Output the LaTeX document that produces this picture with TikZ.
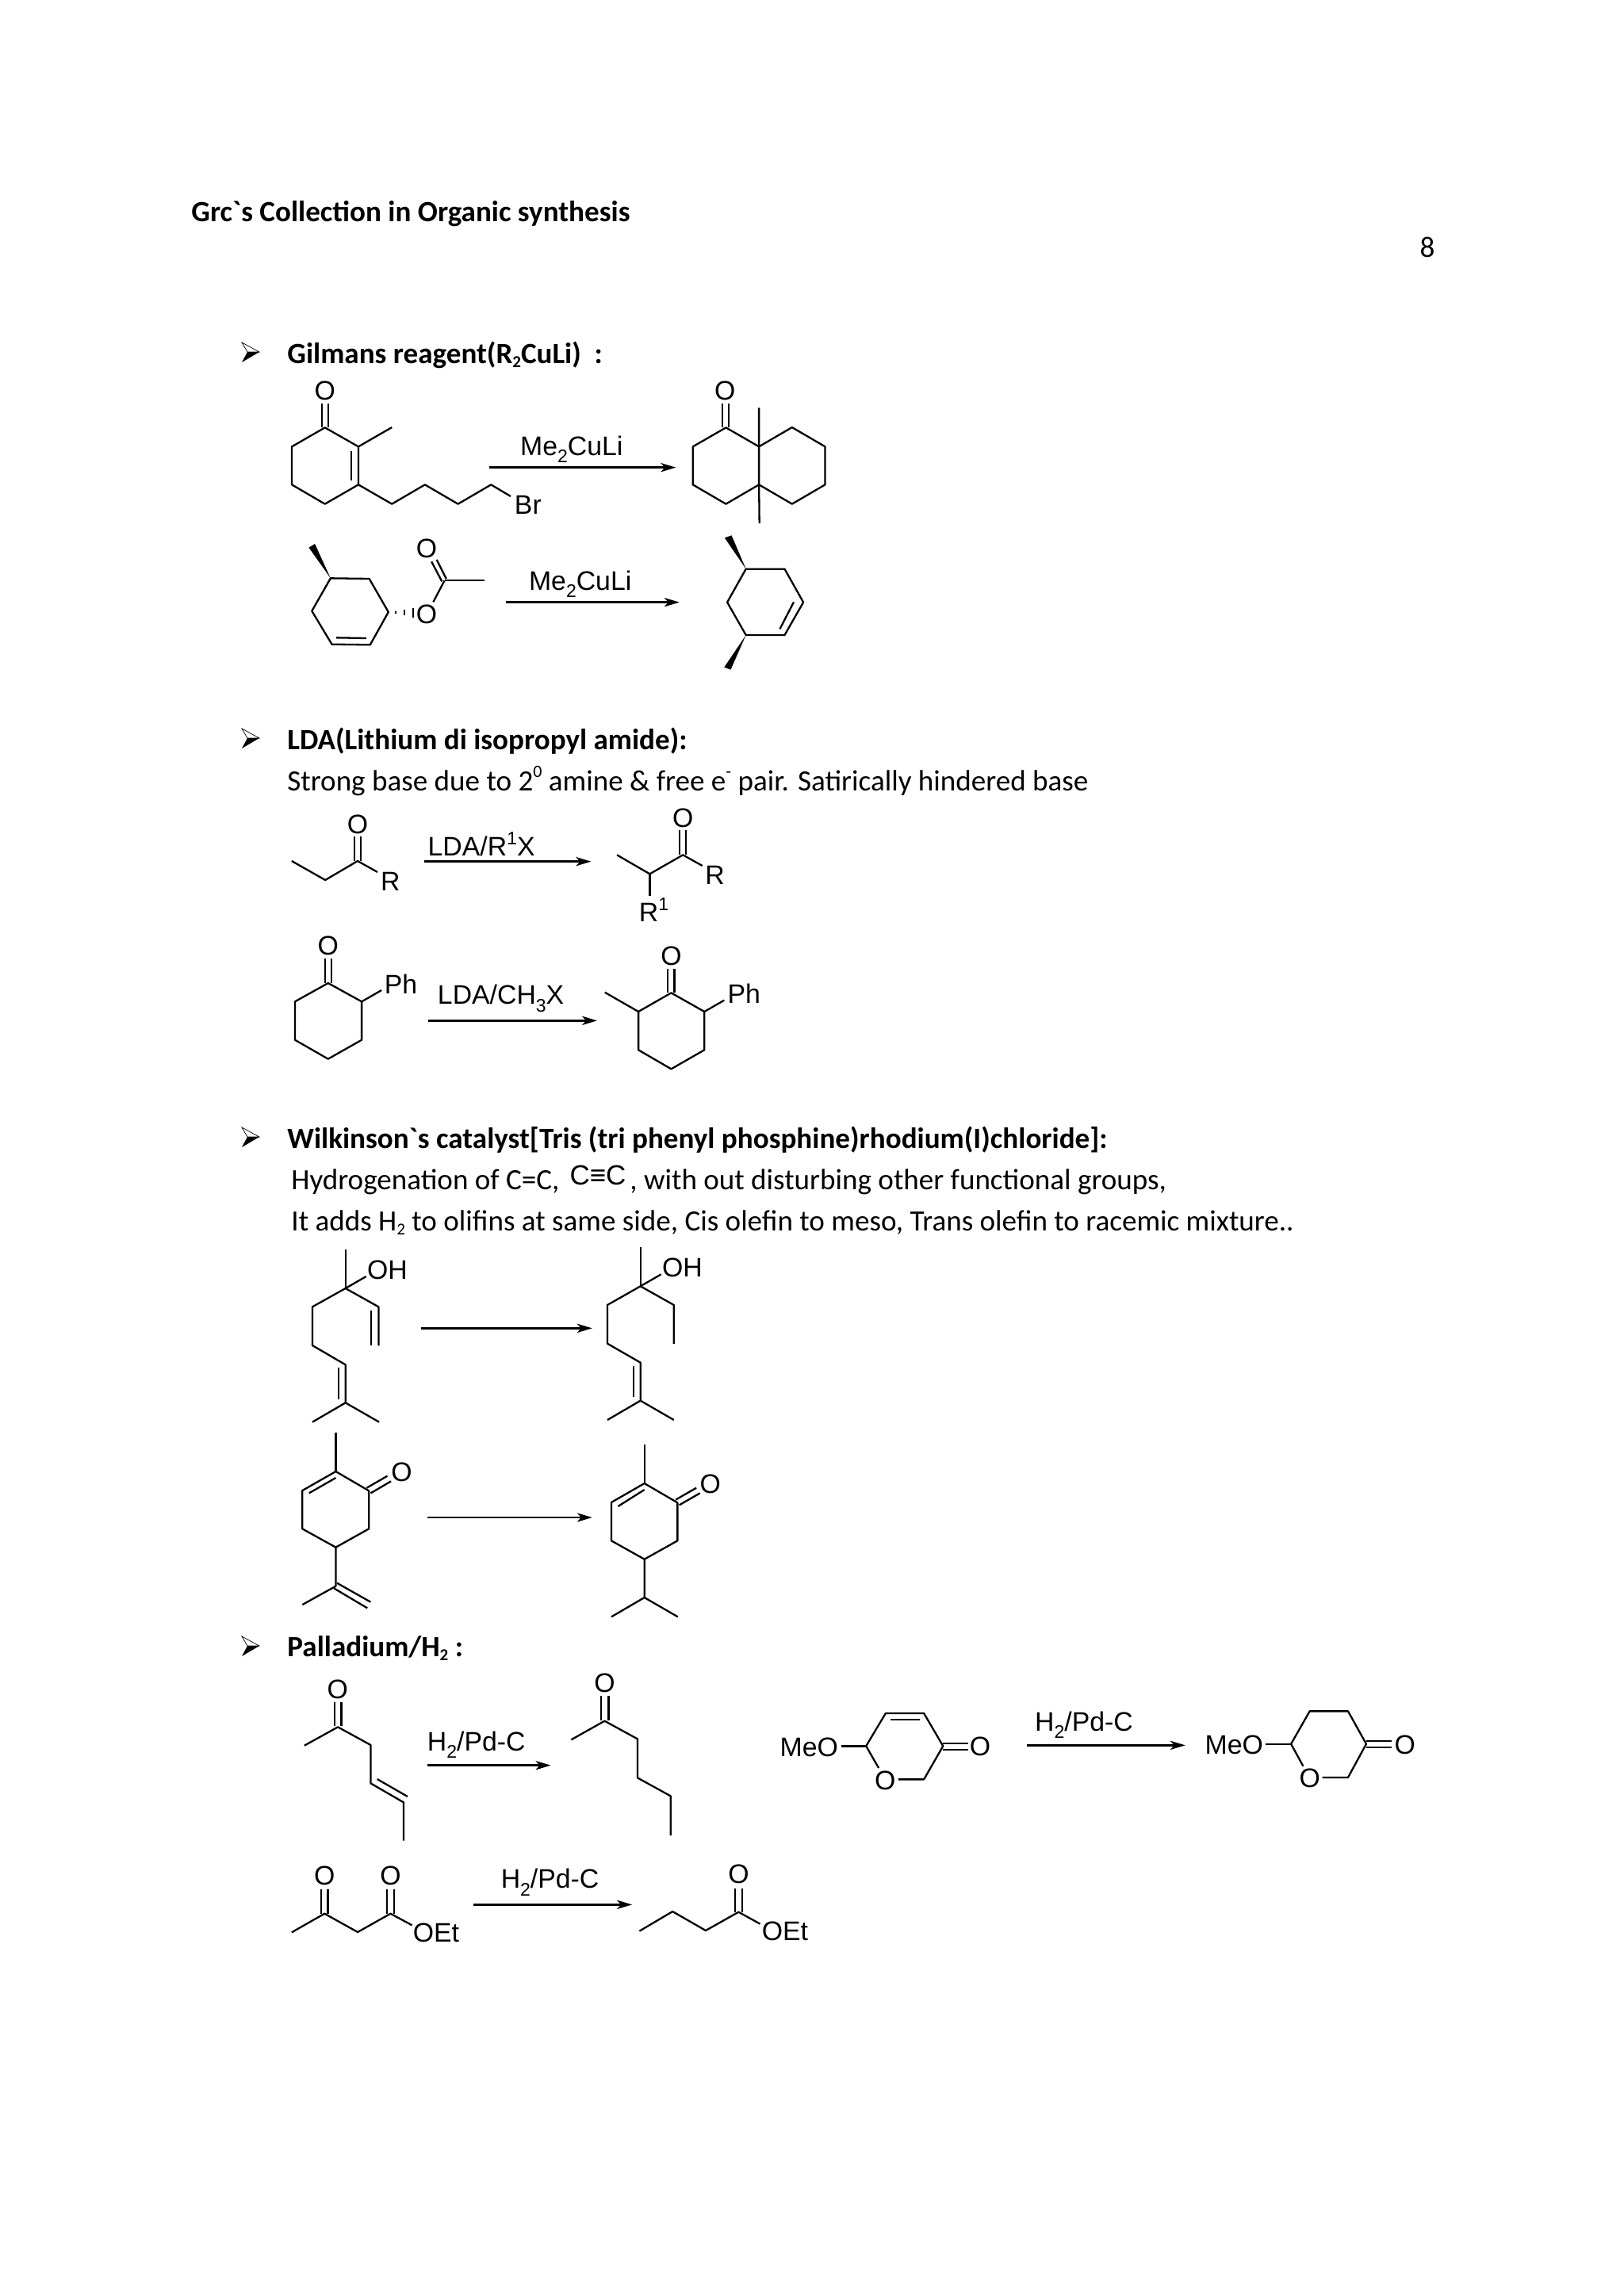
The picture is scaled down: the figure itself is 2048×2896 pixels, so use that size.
\documentclass[tikz,border=0pt]{standalone}
\usepackage{fontspec}
\usetikzlibrary{arrows.meta}
\setmainfont{Carlito}[Ligatures=TeXOff]
\newfontfamily\molfont{Liberation Sans}
\newcommand\lowidx[1]{\raisebox{-0.28em}{\fontsize{11.5}{11.5}\selectfont #1}}
\newcommand\highidx[1]{\raisebox{0.42em}{\fontsize{11.5}{11.5}\selectfont #1}}
\newcommand\txtlow[1]{\raisebox{-0.14em}{\fontsize{10.5}{11}\selectfont #1}}
\newcommand\txthigh[1]{\raisebox{0.44em}{\fontsize{11}{11}\selectfont #1}}
\newcommand\gravemark{\char96\relax}
\tikzset{
  zoomframe/.style n args={3}{shift={(#1,#2)},xscale=1/#3,yscale=1/3},
  bond/.style={line width=1.15pt,line join=round,black},
  hashtick/.style={line width=1.3pt,black},
  wedgebond/.style={fill=black,draw=none},
  rxn/.style={line width=1.3pt,black,-{Stealth[length=9.5pt,width=5.6pt,inset=2.5pt]}},
  atom/.style={font=\molfont\fontsize{16.9}{18}\selectfont,inner sep=0pt,black},
  reagent/.style={font=\molfont\fontsize{16.9}{18}\selectfont,inner sep=0pt,anchor=base,black},
  sheet/.style={font=\fontsize{18.55}{23}\selectfont,inner sep=0pt,anchor=base west,black},
  sheethead/.style={sheet,font=\fontsize{18.55}{23}\selectfont\bfseries},
  bulletmark/.pic={
    \draw[line width=0.35pt,fill=white] (0,0)--(22,12)--(7,12)--cycle;
    \fill[black] (7,12)--(22,12)--(0,25)--cycle;
  }
}
\begin{document}
\begin{tikzpicture}[x=0.5pt,y=-0.5pt]
\useasboundingbox (0,0) rectangle (2048,2896);
% page text
\node[sheethead] (title) at (241,279) {Grc\gravemark s Collection in Organic synthesis};
\node[sheet,anchor=base] (pagenum) at (1800,324) {8};
\pic at (305,432) {bulletmark};
\node[sheethead] (h1) at (362,458) {Gilmans reagent(R\txtlow{2}CuLi)\ \ :};
\pic at (305,919) {bulletmark};
\node[sheethead] (h2) at (362,945) {LDA(Lithium di isopropyl amide):};
\node[sheet] (t2) at (362,997) {Strong base due to 2\txthigh{0} amine \& free e\txthigh{-} pair. Satirically hindered base};
\pic at (305,1422) {bulletmark};
\node[sheethead] (h3) at (362,1448) {Wilkinson\gravemark s catalyst[Tris (tri phenyl phosphine)rhodium(I)chloride]:};
\node[sheet] (t3a) at (367,1500) {Hydrogenation of C=C,};
\node[reagent,font=\molfont\fontsize{17.5}{18}\selectfont] (t3b) at (754,1494) {C≡C};
\node[sheet] (t3c) at (794,1500) {, with out disturbing other functional groups,};
\node[sheet] (t3d) at (367,1552) {It adds H\txtlow{2} to olifins at same side, Cis olefin to meso, Trans olefin to racemic mixture..};
\pic at (305,2064) {bulletmark};
\node[sheethead] (h4) at (362,2089) {Palladium/H\txtlow{2} :};
% Gilman
\begin{scope}[zoomframe={260}{420}{1.823}]
\node[atom] (g1o) at (273,218) {O};
\draw[bond] (273,358)--(197,430)--(197,574)--(273,647)--(350,574)--(350,430)--cycle;
\draw[bond] (266,358)--(266,268) (281,358)--(281,268);
\draw[bond] (350,430)--(427,357);
\draw[bond] (333,448)--(333,558);
\draw[bond] (350,574)--(427,647)--(503,574)--(579,647)--(655,574)--(700,618);
\node[atom] (g1br) at (740,650) {Br};
\coordinate (ga1s) at (650,509); \coordinate (ga1e) at (1080,509);
\draw[rxn] (ga1s)--(ga1e);
\node[reagent] (ga1l) at (840,463) {Me\lowidx{2}CuLi};
\node[atom] (g2o) at (1193,218) {O};
\draw[bond] (1195,358)--(1119,430)--(1119,574)--(1195,647)--(1271,574)--(1271,430)--cycle;
\draw[bond] (1271,430)--(1347,357)--(1423,430)--(1423,574)--(1347,647)--(1271,574);
\draw[bond] (1187,358)--(1187,268) (1202,358)--(1202,268);
\draw[bond] (1271,283)--(1271,430) (1271,574)--(1272,720);
% second row
\draw[bond] (286,928)--(375,930)--(419,1056)--(377,1180)--(289,1178)--(243,1052)--cycle;
\draw[bond] (299,1153)--(368,1155);
\fill[wedgebond] (286,928)--(236,812)--(250,798)--cycle;
\draw[hashtick] (436,1053)--(436,1063) (456,1048)--(456,1069) (476,1041)--(476,1077);
\node[atom] (g3o1) at (507,1064) {O};
\node[atom] (g3o2) at (507,816) {O};
\draw[bond] (548,937)--(522,1018);
\draw[bond] (548,937)--(640,937);
\draw[bond] (552,930)--(530,858) (542,940)--(518,865);
\coordinate (ga2s) at (690,1019); \coordinate (ga2e) at (1088,1019);
\draw[rxn] (ga2s)--(ga2e);
\node[reagent] (ga2l) at (860,972) {Me\lowidx{2}CuLi};
\draw[bond] (1241,893)--(1330,893)--(1373,1019)--(1330,1143)--(1241,1143)--(1198,1019)--cycle;
\draw[bond] (1351,1018)--(1319,1120);
\fill[wedgebond] (1241,893)--(1192,775)--(1208,766)--cycle;
\fill[wedgebond] (1241,1143)--(1191,1265)--(1206,1274)--cycle;
\end{scope}
% LDA
\begin{scope}[zoomframe={300}{900}{1.96}]
\draw[bond] (133,558)--(216,630)--(296,558)--(345,600);
\draw[bond] (288,558)--(288,465) (304,558)--(304,465);
\node[atom] (l1o) at (296,420) {O};
\node[atom] (l1r) at (377,636) {R};
\coordinate (la1s) at (460,560); \coordinate (la1e) at (873,560);
\draw[rxn] (la1s)--(la1e);
\node[reagent] (la1l) at (602,538) {LDA/R\highidx{1}X};
\draw[bond] (937,535)--(1018,607)--(1100,535)--(1148,576);
\draw[bond] (1018,607)--(1018,690);
\draw[bond] (1092,535)--(1092,440) (1108,535)--(1108,440);
\node[atom] (l2o) at (1100,395) {O};
\node[atom] (l2r) at (1179,612) {R};
\node[reagent] (l2r1) at (1028,788) {R\highidx{1}};
\node[atom] (l3o) at (223,878) {O};
\draw[bond] (216,1020)--(216,928) (231,1020)--(231,928);
\draw[bond] (223,1020)--(306,1090)--(306,1235)--(223,1307)--(141,1235)--(141,1090)--cycle;
\draw[bond] (306,1090)--(355,1047);
\node[atom] (l3ph) at (403,1025) {Ph};
\coordinate (la2s) at (470,1162); \coordinate (la2e) at (888,1162);
\draw[rxn] (la2s)--(la2e);
\node[reagent] (la2l) at (650,1100) {LDA/CH\lowidx{3}X};
\node[atom] (l4o) at (1071,917) {O};
\draw[bond] (1063,1057)--(1063,965) (1079,1057)--(1079,965);
\draw[bond] (1071,1057)--(1153,1128)--(1153,1273)--(1071,1345)--(990,1273)--(990,1128)--cycle;
\draw[bond] (990,1128)--(907,1055);
\draw[bond] (1153,1128)--(1202,1085);
\node[atom] (l4ph) at (1251,1060) {Ph};
\end{scope}
% Wilkinson
\begin{scope}[zoomframe={340}{1560}{2.613}]
\draw[bond] (250,48)--(250,195);
\draw[bond] (250,195)--(318,150);
\node[atom] (w1oh) at (388,125) {OH};
\draw[bond] (359,412)--(359,265)--(250,195)--(141,265)--(141,411)--(250,484)--(250,628)--(141,701);
\draw[bond] (250,628)--(361,701);
\draw[bond] (335,280)--(335,412) (228,495)--(228,615);
\coordinate (wa1s) at (500,346); \coordinate (wa1e) at (1063,346);
\draw[rxn] (wa1s)--(wa1e);
\draw[bond] (1222,40)--(1222,187);
\draw[bond] (1222,187)--(1290,142);
\node[atom] (w2oh) at (1360,117) {OH};
\draw[bond] (1332,405)--(1332,258)--(1222,187)--(1113,258)--(1113,404)--(1222,476)--(1222,620)--(1113,693);
\draw[bond] (1222,620)--(1332,693);
\draw[bond] (1199,490)--(1199,605);
% carvone
\draw[bond] (218,742)--(218,888);
\draw[bond] (218,888)--(327,961)--(327,1105)--(218,1175)--(108,1105)--(108,960)--cycle;
\draw[bond] (130,970)--(218,912);
\draw[bond] (320,950)--(388,905) (333,970)--(400,925);
\node[atom] (w3o) at (435,890) {O};
\draw[bond] (218,1175)--(218,1322)--(108,1392);
\draw[bond] (222,1310)--(333,1382) (212,1330)--(322,1405);
\coordinate (wa2s) at (520,1062); \coordinate (wa2e) at (1063,1062);
\draw[rxn] (wa2s)--(wa2e);
\draw[bond] (1235,786)--(1235,933);
\draw[bond] (1235,933)--(1344,1006)--(1344,1150)--(1235,1220)--(1126,1150)--(1126,1005)--cycle;
\draw[bond] (1148,1020)--(1235,957);
\draw[bond] (1338,995)--(1406,950) (1350,1015)--(1418,970);
\node[atom] (w4o) at (1452,935) {O};
\draw[bond] (1235,1220)--(1235,1365)--(1126,1438) (1235,1365)--(1345,1438);
\end{scope}
% Palladium left
\begin{scope}[zoomframe={340}{2100}{2.8}]
\node[atom] (p1o) at (240,92) {O};
\draw[bond] (229,232)--(229,140) (253,232)--(253,140);
\draw[bond] (123,305)--(241,235)--(357,303)--(357,448)--(473,520)--(473,665);
\draw[bond] (380,432)--(487,498);
\coordinate (pa1s) at (558,380); \coordinate (pa1e) at (993,380);
\draw[rxn] (pa1s)--(pa1e);
\node[reagent] (pa1l) at (730,325) {H\lowidx{2}/Pd-C};
\node[atom] (p2o) at (1183,68) {O};
\draw[bond] (1171,210)--(1171,118) (1197,210)--(1197,118);
\draw[bond] (1065,283)--(1183,212)--(1299,280)--(1299,427)--(1416,496)--(1416,645);
\node[atom] (p3o1) at (194,797) {O};
\node[atom] (p3o2) at (427,797) {O};
\draw[bond] (182,941)--(182,848) (206,941)--(206,848);
\draw[bond] (415,941)--(415,848) (439,941)--(439,848);
\draw[bond] (78,1012)--(194,941)--(311,1011)--(427,941)--(503,985);
\node[atom] (p3oet) at (588,1013) {OEt};
\coordinate (pa2s) at (720,907); \coordinate (pa2e) at (1280,907);
\draw[rxn] (pa2s)--(pa2e);
\node[reagent] (pa2l) at (990,845) {H\lowidx{2}/Pd-C};
\draw[bond] (1306,1007)--(1423,933)--(1540,1005)--(1656,935)--(1732,980);
\draw[bond] (1644,935)--(1644,845) (1668,935)--(1668,845);
\node[atom] (p4o) at (1656,792) {O};
\node[atom] (p4oet) at (1820,1008) {OEt};
\end{scope}
% Palladium right
\begin{scope}[zoomframe={960}{2100}{1.823}]
\node[atom] (p5meo) at (110,312) {MeO};
\draw[bond] (185,307)--(241,307);
\draw[bond] (270,390)--(241,307)--(286,183)--(374,183)--(418,307)--(374,433)--(315,433);
\draw[bond] (298,207)--(365,207);
\draw[bond] (418,297)--(475,297) (418,320)--(475,320);
\node[atom] (p5o) at (503,310) {O};
\node[atom] (p5ro) at (285,437) {O};
\coordinate (pa3s) at (610,304); \coordinate (pa3e) at (975,304);
\draw[rxn] (pa3s)--(pa3e);
\node[reagent] (pa3l) at (742,250) {H\lowidx{2}/Pd-C};
\node[atom] (p6meo) at (1087,304) {MeO};
\draw[bond] (1160,299)--(1218,299);
\draw[bond] (1246,383)--(1218,299)--(1261,175)--(1349,175)--(1391,299)--(1349,426)--(1290,426);
\draw[bond] (1391,288)--(1450,288) (1391,312)--(1450,312);
\node[atom] (p6o) at (1480,303) {O};
\node[atom] (p6ro) at (1261,428) {O};
\end{scope}
\end{tikzpicture}
\end{document}
